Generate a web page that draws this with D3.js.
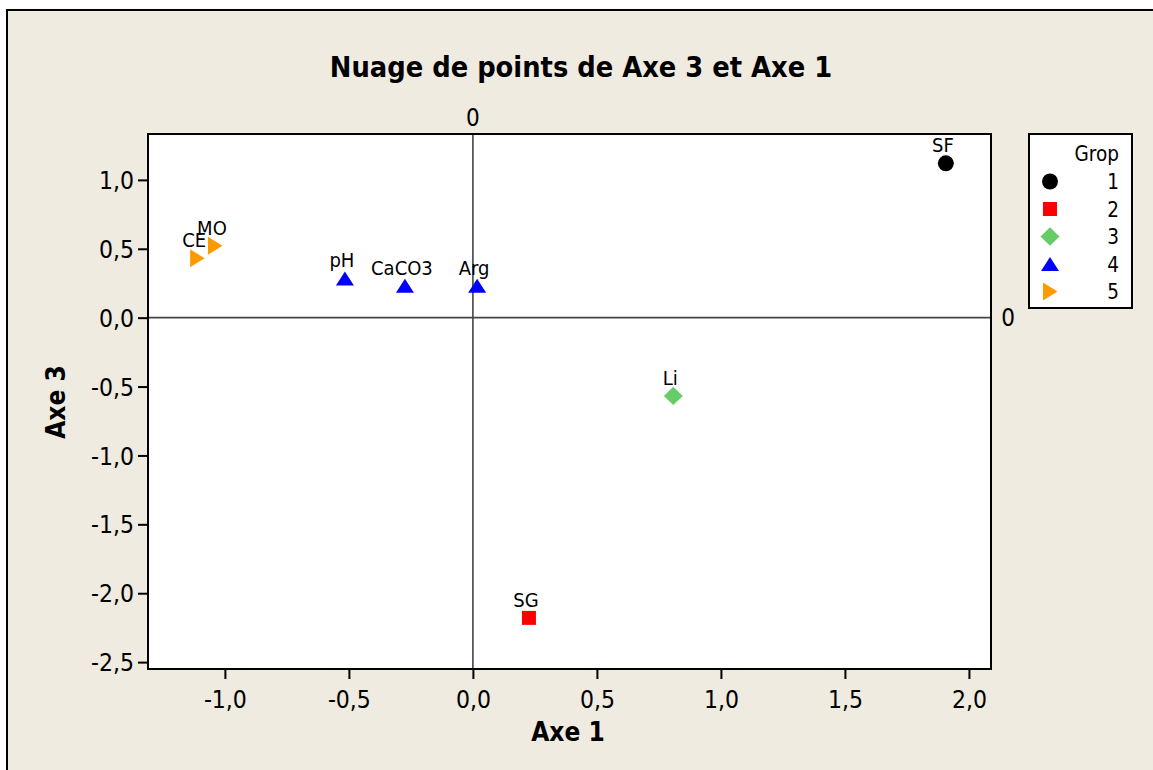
<!DOCTYPE html>
<html>
<head>
<meta charset="utf-8">
<script src="https://cdn.jsdelivr.net/npm/d3@7"></script>
<style>
  html, body { margin: 0; padding: 0; background: #ffffff; }
  svg { display: block; }
  text { font-family: 'DejaVu Sans Condensed', 'DejaVu Sans', sans-serif; font-stretch: condensed; fill: #000; }
</style>
</head>
<body>
<svg id="chart" width="1153" height="770"></svg>
<script>
// ---- data ----
const pointLabels = ["SF", "SG", "Li", "pH", "CaCO3", "Arg", "CE", "MO"];
const axe1Values  = [1.907, 0.226, 0.808, -0.516, -0.274, 0.017, -1.112, -1.040];
const axe3Values  = [1.120, -2.179, -0.568, 0.285, 0.231, 0.231, 0.431, 0.522];
const groupValues = [1, 2, 3, 4, 4, 4, 5, 5];
const groupNames  = [1, 2, 3, 4, 5];
const groupColors = ["#000000", "#ff0000", "#66cc66", "#0000ff", "#ff9900"];
const xTicks = [-1.0, -0.5, 0.0, 0.5, 1.0, 1.5, 2.0];
const yTicks = [1.0, 0.5, 0.0, -0.5, -1.0, -1.5, -2.0, -2.5];
const titleText = "Nuage de points de Axe 3 et Axe 1";
const xTitle = "Axe 1";
const yTitle = "Axe 3";
const legendTitle = "Grop";

// ---- layout ----
const svg = d3.select("#chart");
const L = 148, R = 991, T = 134, B = 669;
const x = d3.scaleLinear().domain([-1.31, 2.089]).range([L, R]);
const y = d3.scaleLinear().domain([-2.55, 1.333]).range([B, T]);
const loc = d3.formatLocale({decimal: ",", thousands: " ", grouping: [3], currency: ["", ""], minus: "-"});
const fmt = loc.format(".1f");

// symbol paths (centered)
const symbolPaths = {
  1: "M8,0A8,8 0 1,1 -8,0A8,8 0 1,1 8,0Z",
  2: "M-7,-7H7V7H-7Z",
  3: "M0,-9.2L9.5,0L0,9.2L-9.5,0Z",
  4: "M0,-7L9,7L-9,7Z",
  5: "M-7,-9L7.5,0L-7,9Z"
};
const colorOf = g => groupColors[groupNames.indexOf(g)];

// background frame
svg.append("rect").attr("x", 7).attr("y", 10).attr("width", 1160).attr("height", 780)
  .attr("fill", "#efebe1").attr("stroke", "#000").attr("stroke-width", 2);

// plot area
svg.append("rect").attr("x", L).attr("y", T).attr("width", R - L).attr("height", B - T)
  .attr("fill", "#fff");

// reference lines
svg.append("line").attr("x1", x(0)).attr("x2", x(0)).attr("y1", T).attr("y2", B)
  .attr("stroke", "#444").attr("stroke-width", 1.6);
svg.append("line").attr("x1", L).attr("x2", R).attr("y1", y(0)).attr("y2", y(0))
  .attr("stroke", "#444").attr("stroke-width", 1.6);
svg.append("text").attr("x", x(0)).attr("y", 126).attr("text-anchor", "middle")
  .style("font-size", "24px").text("0");
svg.append("text").attr("x", 1008).attr("y", y(0) + 8.5).attr("text-anchor", "middle")
  .style("font-size", "24px").text("0");

// axes
const xAxis = d3.axisBottom(x).tickValues(xTicks).tickFormat(fmt).tickSize(10).tickSizeOuter(0).tickPadding(8);
const yAxis = d3.axisLeft(y).tickValues(yTicks).tickFormat(fmt).tickSize(10).tickSizeOuter(0).tickPadding(4);
const gx = svg.append("g").attr("transform", `translate(0,${B})`).call(xAxis);
const gy = svg.append("g").attr("transform", `translate(${L},0)`).call(yAxis);
[gx, gy].forEach(g => {
  g.select(".domain").remove();
  g.selectAll(".tick line").attr("stroke", "#000").attr("stroke-width", 2);
  g.selectAll(".tick text").style("font-size", "24.5px")
    .style("font-family", "'DejaVu Sans Condensed', 'DejaVu Sans', sans-serif").attr("fill", "#000");
});
gx.selectAll(".tick text").attr("dy", "0.87em");
gy.selectAll(".tick text").attr("dy", "0.35em");

// plot border
svg.append("rect").attr("x", L).attr("y", T).attr("width", R - L).attr("height", B - T)
  .attr("fill", "none").attr("stroke", "#000").attr("stroke-width", 2);

// points
const pts = pointLabels.map((lab, i) => ({lab, xv: axe1Values[i], yv: axe3Values[i], g: groupValues[i]}));
svg.append("g").selectAll("path").data(pts).join("path")
  .attr("transform", d => `translate(${x(d.xv)},${y(d.yv)})`)
  .attr("d", d => symbolPaths[d.g])
  .attr("fill", d => colorOf(d.g));
svg.append("g").selectAll("text").data(pts).join("text")
  .attr("x", d => x(d.xv) - 3).attr("y", d => y(d.yv) - 11)
  .attr("text-anchor", "middle").style("font-size", "20px")
  .text(d => d.lab);

// titles
svg.append("text").attr("x", 581).attr("y", 77).attr("text-anchor", "middle")
  .style("font-size", "28.7px").style("font-weight", "bold").text(titleText);
svg.append("text").attr("x", 568).attr("y", 741).attr("text-anchor", "middle")
  .style("font-size", "26px").style("font-weight", "bold").text(xTitle);
svg.append("text").attr("transform", "translate(65,402) rotate(-90)").attr("text-anchor", "middle")
  .style("font-size", "26px").style("font-weight", "bold").text(yTitle);

// legend
const lg = svg.append("g");
lg.append("rect").attr("x", 1029).attr("y", 134).attr("width", 103).attr("height", 174)
  .attr("fill", "#fff").attr("stroke", "#000").attr("stroke-width", 2);
lg.append("text").attr("x", 1119).attr("y", 161).attr("text-anchor", "end")
  .style("font-size", "20.5px").text(legendTitle);
const rowY = d3.scalePoint().domain(groupNames).range([181.5, 291.5]);
groupNames.forEach(gname => {
  lg.append("path").attr("transform", `translate(1050,${rowY(gname)})`)
    .attr("d", symbolPaths[gname]).attr("fill", colorOf(gname));
  lg.append("text").attr("x", 1119).attr("y", rowY(gname) + 7.5).attr("text-anchor", "end")
    .style("font-size", "20.5px").text(gname);
});
</script>
</body>
</html>
